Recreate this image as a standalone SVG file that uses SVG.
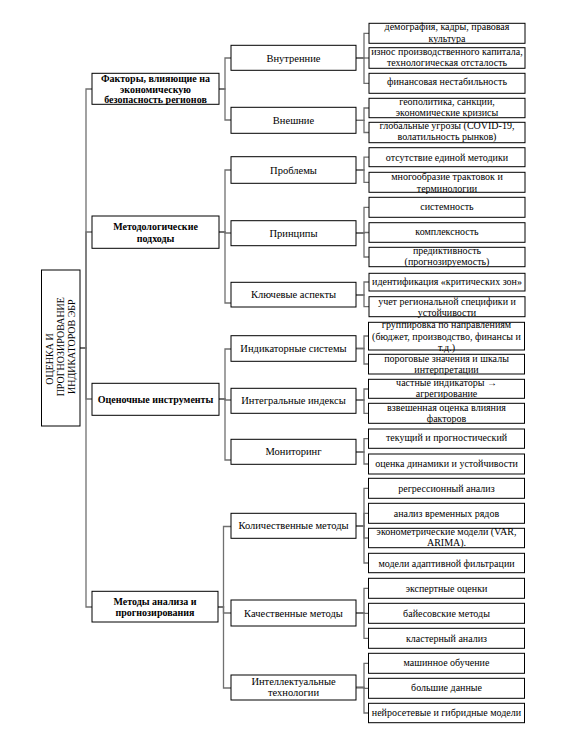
<svg xmlns="http://www.w3.org/2000/svg" width="581" height="739" viewBox="0 0 581 739" font-family="'Liberation Serif', 'Times New Roman', serif">
<style>
rect{fill:#fff;stroke:#000;stroke-width:1}
text{font-family:"Liberation Serif","Times New Roman",serif;fill:#000;text-anchor:middle}
.l0{font-size:10px}
.l1{font-size:10px;font-weight:bold}
.l2{font-size:10.5px}
.l3{font-size:10px}
#connectors path{fill:none;stroke:#707070;stroke-width:1.3}
</style>
<rect x="0" y="0" width="581" height="739" style="stroke:none"/>
<g id="connectors">
<path d="M80 348H86V89H92"/>
<path d="M80 348H86V232H92"/>
<path d="M80 348H86V399H92"/>
<path d="M80 348H86V607H92"/>
<path d="M219 89H225V58H231"/>
<path d="M219 89H225V120H231"/>
<path d="M219 232H225V170H231"/>
<path d="M219 232H225V233H231"/>
<path d="M219 232H225V303H231"/>
<path d="M219 399H225V349H231"/>
<path d="M219 399H225V400H231"/>
<path d="M219 399H225V460H231"/>
<path d="M218 607H223.5V526.5H231"/>
<path d="M218 607H223.5V613H231"/>
<path d="M218 607H223.5V688H231"/>
<path d="M356 58H364V33.3H369"/>
<path d="M356 58H364V58H369"/>
<path d="M356 58H364V83.3H369"/>
<path d="M356 120.3H364V108H369"/>
<path d="M356 120.3H364V132.5H369"/>
<path d="M356 170H364V157.2H369"/>
<path d="M356 170H364V182.3H369"/>
<path d="M356 233H364V207.3H369"/>
<path d="M356 233H364V232.5H369"/>
<path d="M356 233H364V257H369"/>
<path d="M356 295H364V282H369"/>
<path d="M356 295H364V306.7H369"/>
<path d="M356 348.5H364V336H369"/>
<path d="M356 348.5H364V364H369"/>
<path d="M356 400H364V389H369"/>
<path d="M356 400H364V413.3H369"/>
<path d="M356 452H364V438.7H369"/>
<path d="M356 452H364V464H369"/>
<path d="M356 526H364V488.3H369"/>
<path d="M356 526H364V513.3H369"/>
<path d="M356 526H364V538H369"/>
<path d="M356 526H364V563H369"/>
<path d="M356 613H364V588.3H369"/>
<path d="M356 613H364V613.3H369"/>
<path d="M356 613H364V638.3H369"/>
<path d="M356 687.5H364V663.3H369"/>
<path d="M356 687.5H364V688.3H369"/>
<path d="M356 687.5H364V713H369"/>
</g>
<g id="root">
<rect x="41.5" y="270" width="38.5" height="156"/>
<text class="l0" transform="translate(53.3,359) rotate(-90)">ОЦЕНКА И</text>
<text class="l0" transform="translate(64.3,346.7) rotate(-90)">ПРОГНОЗИРОВАНИЕ</text>
<text class="l0" transform="translate(74.8,346.7) rotate(-90)">ИНДИКАТОРОВ ЭБР</text>
</g>
<g id="n-factors">
<rect x="92" y="73.3" width="127" height="31"/>
<text class="l1" x="155.5" y="81.8">Факторы, влияющие на</text>
<text class="l1" x="155.5" y="92.8">экономическую</text>
<text class="l1" x="155.5" y="102.8">безопасность регионов</text>
</g>
<g id="n-method">
<rect x="92" y="216" width="127" height="32.3"/>
<text class="l1" x="155.5" y="230.2">Методологические</text>
<text class="l1" x="155.5" y="241.8">подходы</text>
</g>
<g id="n-tools">
<rect x="92" y="383.3" width="127" height="32"/>
<text class="l1" x="155.5" y="402.8">Оценочные инструменты</text>
</g>
<g id="n-analysis">
<rect x="92" y="591.3" width="126" height="30.7"/>
<text class="l1" x="155" y="604.5">Методы анализа и</text>
<text class="l1" x="155" y="615.8">прогнозирования</text>
</g>
<g id="n-internal"><rect x="231" y="45.3" width="125" height="25"/><text class="l2" x="293.5" y="61.5">Внутренние</text></g>
<g id="n-external"><rect x="231" y="107.3" width="125" height="26"/><text class="l2" x="293.5" y="124">Внешние</text></g>
<g id="n-problems"><rect x="231" y="156.7" width="125" height="26.6"/><text class="l2" x="293.5" y="173.7">Проблемы</text></g>
<g id="n-principles"><rect x="231" y="220.7" width="125" height="25"/><text class="l2" x="293.5" y="237">Принципы</text></g>
<g id="n-key"><rect x="231" y="282.3" width="125" height="24.7"/><text class="l2" x="293.5" y="297.7">Ключевые аспекты</text></g>
<g id="n-indsys"><rect x="231" y="335.7" width="125" height="25.6"/><text class="l2" x="293.5" y="352">Индикаторные системы</text></g>
<g id="n-integral"><rect x="231" y="388.3" width="125" height="25"/><text class="l2" x="293.5" y="403.7">Интегральные индексы</text></g>
<g id="n-monitor"><rect x="231" y="439.3" width="125" height="25"/><text class="l2" x="293.5" y="454.7">Мониторинг</text></g>
<g id="n-quant"><rect x="231" y="513.3" width="125" height="25"/><text class="l2" x="293.5" y="529.4">Количественные методы</text></g>
<g id="n-qual"><rect x="231" y="600" width="125" height="26"/><text class="l2" x="293.5" y="617">Качественные методы</text></g>
<g id="n-intel"><rect x="231" y="675" width="125" height="25"/><text class="l2" x="293.5" y="685.4">Интеллектуальные</text><text class="l2" x="293.5" y="696.4">технологии</text></g>
<g id="n-demo"><rect x="369" y="23.3" width="156" height="20"/><text class="l3" x="447" y="30">демография, кадры, правовая</text><text class="l3" x="447" y="41.6">культура</text></g>
<g id="n-wear"><rect x="369" y="47.7" width="156" height="20.6"/><text class="l3" x="447" y="55">износ производственного капитала,</text><text class="l3" x="447" y="66">технологическая отсталость</text></g>
<g id="n-fin"><rect x="369" y="73.3" width="156" height="20"/><text class="l3" x="447" y="85">финансовая нестабильность</text></g>
<g id="n-geo"><rect x="369" y="98.3" width="156" height="19.4"/><text class="l3" x="447" y="105">геополитика, санкции,</text><text class="l3" x="447" y="116">экономические кризисы</text></g>
<g id="n-global"><rect x="369" y="122.3" width="156" height="20.4"/><text class="l3" x="447" y="129.3">глобальные угрозы (COVID-19,</text><text class="l3" x="447" y="140">волатильность рынков)</text></g>
<g id="n-nomethod"><rect x="369" y="147.7" width="156" height="19"/><text class="l3" x="447" y="160.5">отсутствие единой методики</text></g>
<g id="n-variety"><rect x="369" y="172.3" width="156" height="20"/><text class="l3" x="447" y="180">многообразие трактовок и</text><text class="l3" x="447" y="191.5">терминологии</text></g>
<g id="n-system"><rect x="369" y="197.3" width="156" height="20"/><text class="l3" x="447" y="210">системность</text></g>
<g id="n-complex"><rect x="369" y="222.7" width="156" height="19.6"/><text class="l3" x="447" y="235">комплексность</text></g>
<g id="n-predict"><rect x="369" y="247.3" width="156" height="19.4"/><text class="l3" x="447" y="254">предиктивность</text><text class="l3" x="447" y="265">(прогнозируемость)</text></g>
<g id="n-crit"><rect x="369" y="273.3" width="156" height="17.7"/><text class="l3" x="447" y="285">идентификация «критических зон»</text></g>
<g id="n-regspec"><rect x="369" y="296.7" width="156" height="20"/><text class="l3" x="447" y="305">учет региональной специфики и</text><text class="l3" x="447" y="316">устойчивости</text></g>
<g id="n-group"><rect x="368.5" y="322.3" width="156" height="27.7"/><text class="l3" x="446.5" y="328.3">группировка по направлениям</text><text class="l3" x="446.5" y="340">(бюджет, производство, финансы и</text><text class="l3" x="446.5" y="351">т.д.)</text></g>
<g id="n-thresh"><rect x="368.5" y="354.3" width="156" height="19.7"/><text class="l3" x="446.5" y="361.6">пороговые значения и шкалы</text><text class="l3" x="446.5" y="372.6">интерпретации</text></g>
<g id="n-partial"><rect x="368.5" y="379.3" width="156" height="19"/><text class="l3" x="446.5" y="385.6">частные индикаторы →</text><text class="l3" x="446.5" y="396.6">агрегирование</text></g>
<g id="n-weighted"><rect x="368.5" y="403.3" width="156" height="20"/><text class="l3" x="446.5" y="411">взвешенная оценка влияния</text><text class="l3" x="446.5" y="421.6">факторов</text></g>
<g id="n-current"><rect x="368.5" y="429" width="156" height="19.3"/><text class="l3" x="446.5" y="441">текущий и прогностический</text></g>
<g id="n-dynamics"><rect x="368.5" y="454" width="156" height="20"/><text class="l3" x="446.5" y="467.3">оценка динамики и устойчивости</text></g>
<g id="n-regr"><rect x="368.5" y="478.3" width="156" height="20"/><text class="l3" x="446.5" y="491.6">регрессионный анализ</text></g>
<g id="n-ts"><rect x="368.5" y="503.3" width="156" height="20"/><text class="l3" x="446.5" y="516.6">анализ временных рядов</text></g>
<g id="n-econ"><rect x="368.5" y="528.3" width="156" height="19.4"/><text class="l3" x="446.5" y="535">эконометрические модели (VAR,</text><text class="l3" x="446.5" y="546">ARIMA).</text></g>
<g id="n-adapt"><rect x="368.5" y="553.3" width="156" height="19.4"/><text class="l3" x="446.5" y="566.6">модели адаптивной фильтрации</text></g>
<g id="n-expert"><rect x="368.5" y="578.3" width="156" height="20"/><text class="l3" x="446.5" y="591.6">экспертные оценки</text></g>
<g id="n-bayes"><rect x="368.5" y="603.3" width="156" height="20"/><text class="l3" x="446.5" y="616.6">байесовские методы</text></g>
<g id="n-cluster"><rect x="368.5" y="628.3" width="156" height="20"/><text class="l3" x="446.5" y="641.6">кластерный анализ</text></g>
<g id="n-ml"><rect x="368.5" y="653.3" width="156" height="20"/><text class="l3" x="446.5" y="665.6">машинное обучение</text></g>
<g id="n-bigdata"><rect x="368.5" y="678.3" width="156" height="20"/><text class="l3" x="446.5" y="690.6">большие данные</text></g>
<g id="n-nn"><rect x="368.5" y="703.3" width="156" height="19.4"/><text class="l3" x="446.5" y="716">нейросетевые и гибридные модели</text></g>
</svg>
